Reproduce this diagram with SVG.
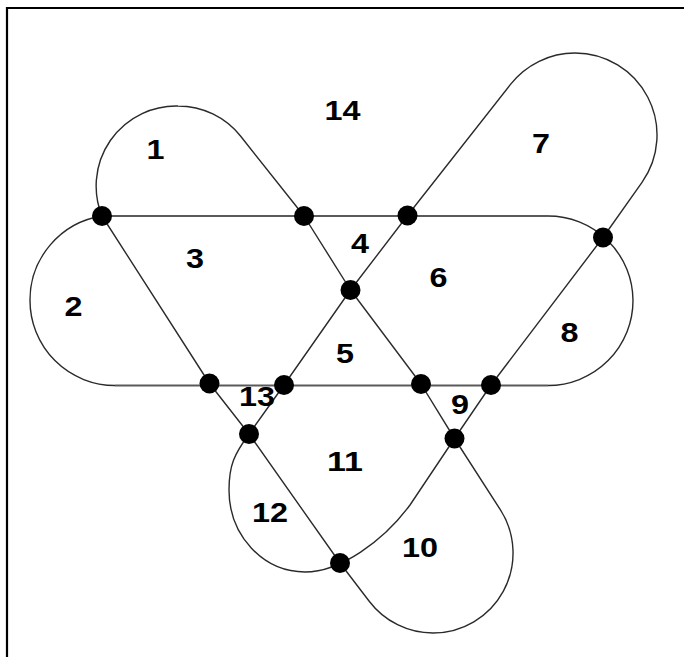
<svg xmlns="http://www.w3.org/2000/svg" width="684" height="657" viewBox="0 0 684 657">
<style>
.frame{stroke:#000;stroke-width:2.2;fill:none}
.c{stroke:#2a2a2a;stroke-width:1.4;fill:none;stroke-linejoin:round}
.h{stroke:#5a5a5a;stroke-width:2;fill:none}
.n{fill:#000}
.t{font-family:"Liberation Sans",Arial,sans-serif;font-weight:bold;font-size:27px;fill:#000;text-anchor:middle}
</style>
<rect width="684" height="657" fill="#fff"/>
<path class="frame" d="M7,657 V8 H684"/>
<g id="connectors">
<path class="h" d="M102,216 H548"/>
<path class="h" d="M115,385.5 H548"/>
<path class="c" d="M548,216 A85,85 0 0 1 633,300.5 A85,85 0 0 1 548,385.5"/>
<path class="c" d="M102,216 A85,85 0 0 0 30,300.5 A85,85 0 0 0 115,385.5"/>
<path class="c" d="M102,216 L209.5,383.5 L249,434 L340,563 L369.4,601.5 A80,80 0 0 0 433,633 A80,80 0 0 0 500.3,509.7 L454.5,438.5 L421,384 L350.5,290 L304,216 L240.7,136.3 A80,80 0 0 0 178,106 A80,80 0 0 0 102,216"/>
<path class="c" d="M249,434 C234.3,454.3 229,465 229,490 C229,535.3 263,572 305,572 C340,572 383.3,541.2 410,505 L454.5,438.5 L491,385 L603,237.5 L642,182.3 A82,82 0 0 0 575,53 A82,82 0 0 0 510.5,84.4 L407.5,215.5 L350.5,290 L284,385 L249,434"/>
</g>
<g id="nA"><circle class="n" cx="102" cy="216" r="10"/></g>
<g id="nB"><circle class="n" cx="304" cy="216" r="10"/></g>
<g id="nC"><circle class="n" cx="407.5" cy="215.5" r="10"/></g>
<g id="nD"><circle class="n" cx="603" cy="237.5" r="10"/></g>
<g id="nE"><circle class="n" cx="350.5" cy="290" r="10"/></g>
<g id="nF"><circle class="n" cx="209.5" cy="383.5" r="10"/></g>
<g id="nG"><circle class="n" cx="284" cy="385" r="10"/></g>
<g id="nH"><circle class="n" cx="421" cy="384" r="10"/></g>
<g id="nI"><circle class="n" cx="491" cy="385" r="10"/></g>
<g id="nJ"><circle class="n" cx="249" cy="434" r="10"/></g>
<g id="nK"><circle class="n" cx="454.5" cy="438.5" r="10"/></g>
<g id="nL"><circle class="n" cx="340" cy="563" r="10"/></g>
<g id="labels">
<text class="t" x="155.5" y="158.5" textLength="18" lengthAdjust="spacingAndGlyphs">1</text>
<text class="t" x="73.5" y="316" textLength="18" lengthAdjust="spacingAndGlyphs">2</text>
<text class="t" x="195" y="268" textLength="18" lengthAdjust="spacingAndGlyphs">3</text>
<text class="t" x="360" y="253" textLength="18" lengthAdjust="spacingAndGlyphs">4</text>
<text class="t" x="345" y="362.5" textLength="18" lengthAdjust="spacingAndGlyphs">5</text>
<text class="t" x="438.5" y="286.5" textLength="18" lengthAdjust="spacingAndGlyphs">6</text>
<text class="t" x="541" y="153" textLength="18" lengthAdjust="spacingAndGlyphs">7</text>
<text class="t" x="569.5" y="341.5" textLength="18" lengthAdjust="spacingAndGlyphs">8</text>
<text class="t" x="460" y="414" textLength="18" lengthAdjust="spacingAndGlyphs">9</text>
<text class="t" x="420" y="557" textLength="36" lengthAdjust="spacingAndGlyphs">10</text>
<text class="t" x="345" y="471" textLength="36" lengthAdjust="spacingAndGlyphs">11</text>
<text class="t" x="270" y="521.5" textLength="36" lengthAdjust="spacingAndGlyphs">12</text>
<text class="t" x="257" y="406" textLength="36" lengthAdjust="spacingAndGlyphs">13</text>
<text class="t" x="342.5" y="119.5" textLength="36" lengthAdjust="spacingAndGlyphs">14</text>
</g>
</svg>
